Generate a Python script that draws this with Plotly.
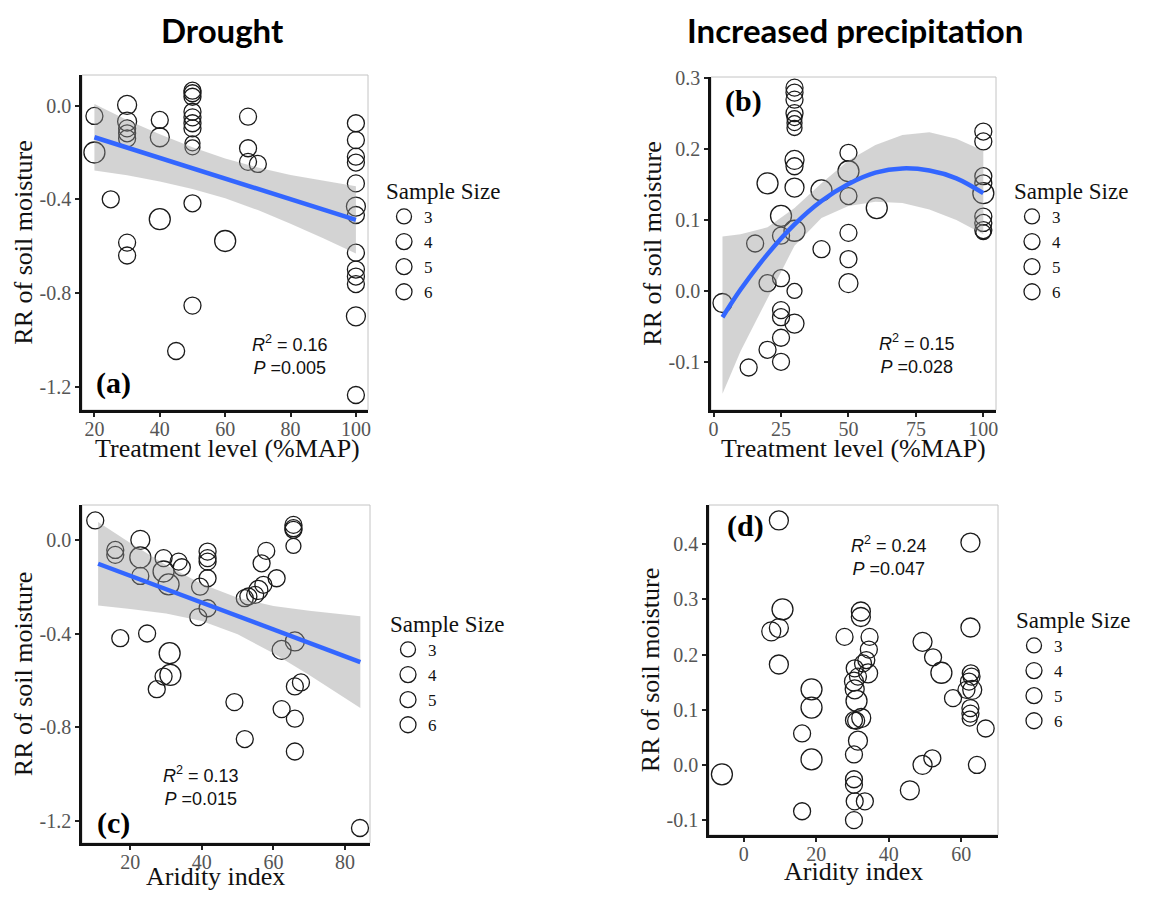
import plotly.graph_objects as go

# the page adds an 8px body margin; lay out the figure in reference pixels minus that offset
OFF = 8
FW, FH = 1159 - 2 * OFF, 898 - 2 * OFF

# ---------------- Panel (a): Drought vs treatment level ----------------
a_x = [20, 20, 25, 30, 30, 30, 30, 30, 30, 30, 40, 40, 40, 45,
       50, 50, 50, 50, 50, 50, 50, 50, 50, 50, 50, 60, 67, 67, 67, 70,
       100, 100, 100, 100, 100, 100, 100, 100, 100, 100, 100, 100, 100]
a_y = [-0.044, -0.20, -0.40, 0.003, -0.068, -0.097, -0.118, -0.14, -0.585, -0.64,
       -0.061, -0.135, -0.485, -1.048,
       0.064, 0.053, 0.038, -0.026, -0.05, -0.075, -0.097, -0.161, -0.178, -0.417, -0.854,
       -0.578, -0.047, -0.182, -0.24, -0.249,
       -0.075, -0.147, -0.218, -0.243, -0.332, -0.431, -0.467, -0.628, -0.70, -0.73,
       -0.762, -0.90, -1.236]
a_n = [4, 6, 4, 5, 5, 4, 4, 4, 4, 4, 4, 5, 6, 4,
       4, 4, 4, 4, 4, 4, 4, 3, 3, 4, 4, 6, 4, 4, 4, 4,
       4, 4, 4, 4, 4, 5, 4, 4, 4, 4, 4, 5, 4]
a_fit_x = [20, 100]
a_fit_y = [-0.135, -0.488]
a_band_x = [20, 30, 40, 50, 60, 70, 80, 90, 100]
a_band_hi = [0.007, -0.061, -0.122, -0.178, -0.226, -0.264, -0.296, -0.321, -0.344]
a_band_lo = [-0.277, -0.297, -0.324, -0.356, -0.396, -0.446, -0.504, -0.566, -0.632]

# ---------------- Panel (b): Increased precipitation vs treatment level ----------------
b_x = [3.3, 13, 15.4, 20, 20, 20, 25, 25, 25, 25, 25, 25, 25,
       30, 30, 30, 30, 30, 30, 30, 30, 30, 30, 30, 30, 30,
       40, 40, 50, 50, 50, 50, 50, 50, 60.5,
       100, 100, 100, 100, 100, 100, 100, 100, 100]
b_y = [-0.017, -0.108, 0.067, 0.152, 0.011, -0.083, 0.106, 0.078, 0.018, -0.027, -0.037, -0.066, -0.10,
       0.287, 0.28, 0.27, 0.251, 0.244, 0.237, 0.23, 0.185, 0.176, 0.146, 0.085, 0.0, -0.046,
       0.142, 0.059, 0.195, 0.169, 0.134, 0.082, 0.045, 0.011, 0.117,
       0.225, 0.211, 0.162, 0.152, 0.138, 0.105, 0.096, 0.086, 0.083]
b_n = [5, 4, 4, 6, 4, 4, 6, 4, 4, 4, 4, 4, 4,
       4, 4, 4, 4, 3, 3, 3, 5, 4, 5, 6, 3, 5,
       6, 4, 4, 6, 4, 4, 4, 5, 6,
       4, 4, 4, 4, 6, 4, 4, 4, 3]
b_fit_x = [3.3, 10, 20, 30, 40, 50, 60, 70, 80, 90, 100]
b_fit_y = [-0.037, 0.002, 0.052, 0.094, 0.127, 0.151, 0.167, 0.173, 0.170, 0.159, 0.138]
b_band_hi = [0.077, 0.080, 0.090, 0.117, 0.152, 0.184, 0.206, 0.220, 0.224, 0.215, 0.198]
b_band_lo = [-0.145, -0.085, -0.010, 0.064, 0.103, 0.120, 0.126, 0.124, 0.115, 0.100, 0.080]

# ---------------- Panel (c): Drought vs aridity index ----------------
c_x = [10.2, 15.8, 15.8, 17.2, 22.8, 22.8, 22.8, 24.7, 29.3, 29.3, 30.7, 31, 31.2, 29.3, 27.4,
       33.5, 34.4, 39.5, 39, 41.6, 41.6, 41.6, 41.6, 41.6, 49.1, 52, 53, 54.9, 52,
       56.7, 58, 57.2, 55.8, 60.9, 62.3, 62.3, 65.6, 65.6, 65.6, 65.6,
       66, 66, 66, 66, 67.7, 84.2]
c_y = [0.083, -0.043, -0.064, -0.42, 0.0, -0.075, -0.154, -0.40, -0.078, -0.135, -0.19, -0.484, -0.577, -0.584, -0.638,
       -0.093, -0.117, -0.20, -0.33, -0.05, -0.078, -0.093, -0.164, -0.292, -0.693, -0.249, -0.242, -0.235, -0.851,
       -0.10, -0.047, -0.192, -0.214, -0.164, -0.47, -0.723, 0.064, 0.05, 0.043, -0.026,
       -0.434, -0.626, -0.764, -0.904, -0.609, -1.231]
c_n = [4, 4, 4, 4, 5, 6, 4, 4, 4, 6, 6, 6, 6, 4, 4,
       4, 4, 4, 4, 4, 4, 4, 4, 4, 4, 4, 4, 4, 4,
       4, 4, 4, 5, 4, 5, 4, 4, 4, 4, 3,
       5, 4, 4, 4, 4, 4]
c_fit_x = [11, 84.3]
c_fit_y = [-0.102, -0.522]
c_band_x = [11, 20, 30, 40, 50, 60, 70, 84.3]
c_band_hi = [0.076, -0.013, -0.107, -0.189, -0.247, -0.282, -0.303, -0.326]
c_band_lo = [-0.280, -0.295, -0.315, -0.347, -0.403, -0.484, -0.577, -0.718]

# ---------------- Panel (d): Increased precipitation vs aridity index ----------------
d_x = [-6, 9.7, 7.6, 9.7, 10.7, 9.7, 16.1, 16.1, 18.7, 18.7, 18.7, 27.8,
       30.4, 30.6, 31.1, 30.4, 31, 31.5, 30.4, 30.4, 30.4, 30.6, 30.4, 33.4,
       32.3, 32.3, 32.4, 32.9, 33.8, 34.7, 34.5, 34.3, 31.5, 30.6,
       49.3, 52.2, 54.5, 57.7, 45.8, 49.3, 52,
       62.5, 62.5, 61.4, 62.6, 62.8, 63, 62.1, 62.5, 62.5, 62.3, 66.7, 64.3]
d_y = [-0.017, 0.443, 0.242, 0.248, 0.282, 0.182, 0.057, -0.084, 0.137, 0.104, 0.010, 0.232,
       0.151, 0.137, 0.116, 0.081, 0.080, 0.044, 0.019, -0.026, -0.036, -0.066, -0.10, -0.066,
       0.278, 0.268, 0.085, 0.184, 0.19, 0.232, 0.209, 0.166, 0.16, 0.175,
       0.223, 0.195, 0.167, 0.121, -0.046, 0.0, 0.012,
       0.403, 0.249, 0.136, 0.166, 0.16, 0.136, 0.151, 0.103, 0.093, 0.084, 0.066, 0.0]
d_n = [6, 5, 5, 5, 6, 5, 4, 4, 6, 6, 6, 4,
       5, 5, 6, 4, 4, 5, 4, 4, 4, 4, 4, 4,
       5, 5, 5, 4, 4, 4, 4, 5, 4, 4,
       5, 4, 6, 4, 5, 5, 4,
       5, 5, 4, 4, 4, 5, 4, 4, 4, 3, 4, 4]

size_levels = [3, 4, 5, 6]
size_px = {3: 15, 4: 17, 5: 19, 6: 21}

# tick labels
a_xticks = [20, 40, 60, 80, 100]
b_xticks = [0, 25, 50, 75, 100]
c_xticks = [20, 40, 60, 80]
d_xticks = [0, 20, 40, 60]
ac_yticks = [0.0, -0.4, -0.8, -1.2]
ac_yticklabels = ["0.0", "-0.4", "-0.8", "-1.2"]
b_yticks = [-0.1, 0.0, 0.1, 0.2, 0.3]
b_yticklabels = ["-0.1", "0.0", "0.1", "0.2", "0.3"]
d_yticks = [-0.1, 0.0, 0.1, 0.2, 0.3, 0.4]
d_yticklabels = ["-0.1", "0.0", "0.1", "0.2", "0.3", "0.4"]

SERIF = "Liberation Serif"
SANS = "Liberation Sans"


def PX(p):
    return (p - OFF) / FW


def PY(p):
    return 1 - (p - OFF) / FH


fig = go.Figure()

panels = [
    dict(ax="x", ay="y", leg="legend", x=a_x, y=a_y, n=a_n,
         fx=a_fit_x, fy=a_fit_y, bx=a_band_x, bh=a_band_hi, bl=a_band_lo),
    dict(ax="x2", ay="y2", leg="legend2", x=b_x, y=b_y, n=b_n,
         fx=b_fit_x, fy=b_fit_y, bx=b_fit_x, bh=b_band_hi, bl=b_band_lo),
    dict(ax="x3", ay="y3", leg="legend3", x=c_x, y=c_y, n=c_n,
         fx=c_fit_x, fy=c_fit_y, bx=c_band_x, bh=c_band_hi, bl=c_band_lo),
    dict(ax="x4", ay="y4", leg="legend4", x=d_x, y=d_y, n=d_n,
         fx=None, fy=None, bx=None, bh=None, bl=None),
]

for p in panels:
    for s in size_levels:
        xs = [xv for xv, nv in zip(p["x"], p["n"]) if nv == s]
        ys = [yv for yv, nv in zip(p["y"], p["n"]) if nv == s]
        fig.add_trace(go.Scatter(
            x=xs, y=ys, mode="markers", name=str(s),
            xaxis=p["ax"], yaxis=p["ay"], legend=p["leg"],
            marker=dict(symbol="circle-open", size=size_px[s], color="#1a1a1a",
                        line=dict(width=1.3, color="#1a1a1a")),
            showlegend=True, hoverinfo="x+y"))
    if p["bx"] is not None:
        fig.add_trace(go.Scatter(
            x=list(p["bx"]) + list(p["bx"])[::-1],
            y=list(p["bh"]) + list(p["bl"])[::-1],
            mode="lines", fill="toself", fillcolor="rgba(150,150,150,0.42)",
            line=dict(width=0), xaxis=p["ax"], yaxis=p["ay"],
            showlegend=False, hoverinfo="skip"))
        fig.add_trace(go.Scatter(
            x=p["fx"], y=p["fy"], mode="lines",
            line=dict(color="#3366FF", width=4.5, shape="spline" if len(p["fx"]) > 2 else "linear"),
            xaxis=p["ax"], yaxis=p["ay"], showlegend=False, hoverinfo="skip"))


def xdom(l, r):
    return [PX(l), PX(r)]


def ydom(t, b):
    return [PY(b), PY(t)]


tickfont = dict(family=SERIF, size=20, color="#555555")
titlefont = dict(family=SERIF, size=26, color="#111")


def xaxis_cfg(dom, rng, tv, anchor):
    return dict(domain=dom, range=rng, tickvals=tv, ticktext=[str(t) for t in tv],
                ticks="outside", ticklen=4, tickwidth=1.5, tickcolor="#222",
                ticklabelstandoff=-5,
                showline=True, linewidth=2.5, linecolor="#111", showgrid=False,
                zeroline=False, tickfont=tickfont, anchor=anchor, automargin=False)


def yaxis_cfg(dom, rng, tv, tt, anchor):
    return dict(domain=dom, range=rng, tickvals=tv, ticktext=tt,
                ticks="outside", ticklen=4, tickwidth=1.5, tickcolor="#222",
                showline=True, linewidth=2.5, linecolor="#111", showgrid=False,
                zeroline=False, tickfont=tickfont, anchor=anchor, automargin=False,
                title=dict(text="RR of soil moisture", font=titlefont, standoff=0))


fig.update_layout(
    width=FW, height=FH, margin=dict(l=0, r=0, t=0, b=0, autoexpand=False),
    paper_bgcolor="white", plot_bgcolor="white",
    xaxis=xaxis_cfg(xdom(82, 368), [16.2, 103.7], a_xticks, "y"),
    yaxis=yaxis_cfg(ydom(75, 410), [-1.30, 0.131], ac_yticks, ac_yticklabels, "x"),
    xaxis2=xaxis_cfg(xdom(711, 996), [-0.96, 104.7], b_xticks, "y2"),
    yaxis2=yaxis_cfg(ydom(77, 410), [-0.168, 0.302], b_yticks, b_yticklabels, "x2"),
    xaxis3=xaxis_cfg(xdom(82, 370), [6.5, 87], c_xticks, "y3"),
    yaxis3=yaxis_cfg(ydom(505, 843), [-1.295, 0.149], ac_yticks, ac_yticklabels, "x3"),
    xaxis4=xaxis_cfg(xdom(709, 998), [-9.56, 70.1], d_xticks, "y4"),
    yaxis4=yaxis_cfg(ydom(505, 835), [-0.127, 0.471], d_yticks, d_yticklabels, "x4"),
)

# x-axis titles
for txt, cx, cy in [("Treatment level (%MAP)", 227, 448), ("Treatment level (%MAP)", 853, 448),
                    ("Aridity index", 215, 876), ("Aridity index", 853, 871)]:
    fig.add_annotation(text=txt, x=PX(cx), y=PY(cy), xref="paper", yref="paper",
                       xanchor="center", yanchor="middle", showarrow=False, font=titlefont)

legfont = dict(family=SERIF, size=17, color="#111")
legtitle = dict(text="Sample Size", font=dict(family=SERIF, size=23, color="#111"))
for key, lx, ly in [("legend", 384, 169), ("legend2", 1012, 169),
                    ("legend3", 388, 602), ("legend4", 1014, 598)]:
    fig.update_layout({key: dict(x=PX(lx), y=PY(ly), xanchor="left", yanchor="top",
                                 title=legtitle, font=legfont, bgcolor="rgba(0,0,0,0)",
                                 itemsizing="trace", tracegroupgap=0)})

# frames (light gray box)
for xa, ya in [("x", "y"), ("x2", "y2"), ("x3", "y3"), ("x4", "y4")]:
    fig.add_shape(type="rect", xref=xa + " domain", yref=ya + " domain",
                  x0=0, x1=1, y0=0, y1=1, line=dict(color="#c4c4c4", width=1),
                  layer="below")

# panel headers
for txt, cx in [("Drought", 222), ("Increased precipitation", 855)]:
    fig.add_annotation(text="<b>" + txt + "</b>", x=PX(cx), y=PY(30),
                       xref="paper", yref="paper", xanchor="center", yanchor="middle",
                       showarrow=False, font=dict(family="Lato", size=33, color="#000"))

# panel letters
for txt, cx, cy in [("(a)", 113, 383), ("(b)", 743, 101), ("(c)", 113, 823), ("(d)", 745, 526)]:
    fig.add_annotation(text="<b>" + txt + "</b>", x=PX(cx), y=PY(cy),
                       xref="paper", yref="paper", xanchor="center", yanchor="middle",
                       showarrow=False, font=dict(family=SERIF, size=30, color="#000"))

# statistics
stats = [("0.16", "0.005", 290, 355),
         ("0.15", "0.028", 917, 354),
         ("0.13", "0.015", 201, 786),
         ("0.24", "0.047", 889, 556)]
for r2, pv, px, py in stats:
    fig.add_annotation(text="<i>R</i><sup>2</sup> = " + r2 + "<br><i>P</i> =" + pv,
                       x=PX(px), y=PY(py), xref="paper", yref="paper",
                       xanchor="center", yanchor="middle",
                       showarrow=False, align="center",
                       font=dict(family=SANS, size=18, color="#111"))

fig.write_html("out.html")
